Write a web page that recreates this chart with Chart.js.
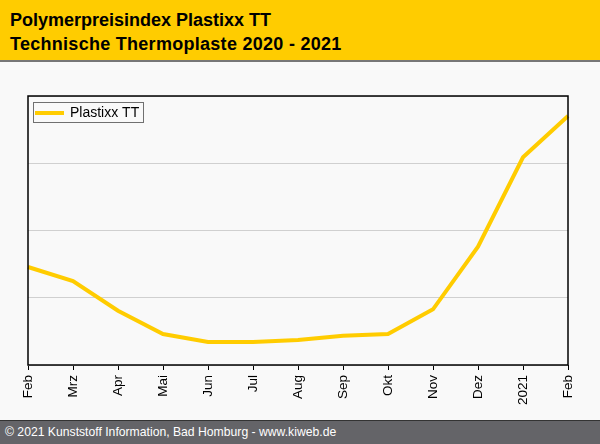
<!DOCTYPE html>
<html>
<head>
<meta charset="utf-8">
<script src="https://cdn.jsdelivr.net/npm/chart.js@4"></script>
<style>
  html, body { margin: 0; padding: 0; }
  body { width: 600px; height: 444px; background: #f9f9f9; position: relative; overflow: hidden; font-family: "Liberation Sans", Arial, sans-serif; }
  #header { position: absolute; left: 0; top: 0; width: 600px; height: 62px; background: #ffcc00; border-bottom: 2px solid #777; box-sizing: border-box; }
  #header div { position: absolute; left: 10px; font-weight: bold; font-size: 18px; line-height: 20px; color: #000; white-space: nowrap; }
  #footer { position: absolute; left: 0; top: 420px; width: 600px; height: 24px; background: #646468; border-top: 1px solid #333; box-sizing: border-box; color: #fff; font-size: 12.2px; }
  #footer span { position: absolute; left: 5px; top: 4px; white-space: nowrap; }
  #wrap { position: absolute; left: 0; top: 62px; width: 600px; height: 358px; }
</style>
</head>
<body>
<div id="header">
  <div style="top:10px">Polymerpreisindex Plastixx TT</div>
  <div style="top:34px; letter-spacing:0.28px">Technische Thermoplaste 2020 - 2021</div>
</div>
<div id="wrap"><canvas id="chart" width="600" height="358"></canvas></div>
<div id="footer"><span>© 2021 Kunststoff Information, Bad Homburg - www.kiweb.de</span></div>
<script>
const months = ["Feb", "Mrz", "Apr", "Mai", "Jun", "Jul", "Aug", "Sep", "Okt", "Nov", "Dez", "2021", "Feb"];
const plastixxTT = [145.7, 124.9, 80.7, 46.1, 34.2, 34.2, 37.2, 43.6, 46.1, 82.8, 175.9, 308.8, 370.3];
const seriesName = "Plastixx TT";

// frame round the plot area and the boxed legend
const framePlugin = {
  id: "frame",
  afterDraw(chart) {
    const c = chart.ctx;
    const a = chart.chartArea;
    c.save();
    c.strokeStyle = "#000";
    c.lineWidth = 1.5;
    c.strokeRect(a.left, a.top, a.right - a.left, a.bottom - a.top);

    const ds = chart.data.datasets[0];
    const x = a.left + 5, y = a.top + 6;
    c.fillStyle = "#f9f9f9";
    c.fillRect(x, y, 110, 20);
    c.strokeStyle = "#707070";
    c.lineWidth = 1;
    c.strokeRect(x + 0.5, y + 0.5, 110, 20);
    c.strokeStyle = ds.borderColor;
    c.lineWidth = 4;
    c.beginPath();
    c.moveTo(x + 2, y + 11);
    c.lineTo(x + 31, y + 11);
    c.stroke();
    c.fillStyle = "#000";
    c.font = '14px "Liberation Sans", Arial, sans-serif';
    c.textBaseline = "middle";
    c.fillText(ds.label, x + 37, y + 11);
    c.restore();
  }
};

new Chart(document.getElementById("chart"), {
  type: "line",
  data: {
    labels: months,
    datasets: [{
      label: seriesName,
      data: plastixxTT,
      borderColor: "#ffcc00",
      borderWidth: 4,
      pointRadius: 0,
      tension: 0,
      fill: false
    }]
  },
  options: {
    responsive: false,
    animation: false,
    devicePixelRatio: 1,
    layout: { padding: { left: 28, right: 32, top: 34, bottom: 0 } },
    plugins: { legend: { display: false }, tooltip: { enabled: false } },
    scales: {
      x: {
        offset: false,
        grid: { drawOnChartArea: false, drawTicks: true, tickLength: 5, color: "#000", lineWidth: 1 },
        border: { display: false },
        ticks: {
          minRotation: 90, maxRotation: 90, autoSkip: false, padding: 5,
          color: "#000", font: { family: '"Liberation Sans", Arial, sans-serif', size: 13.5 }
        },
        afterFit(scale) { scale.height = 55; }
      },
      y: {
        min: 0, max: 400,
        ticks: { display: false, stepSize: 100 },
        grid: { color: "#d0d0d0", lineWidth: 1, drawTicks: false },
        border: { display: false },
        afterFit(scale) { scale.width = 0; }
      }
    }
  },
  plugins: [framePlugin]
});
</script>
</body>
</html>
